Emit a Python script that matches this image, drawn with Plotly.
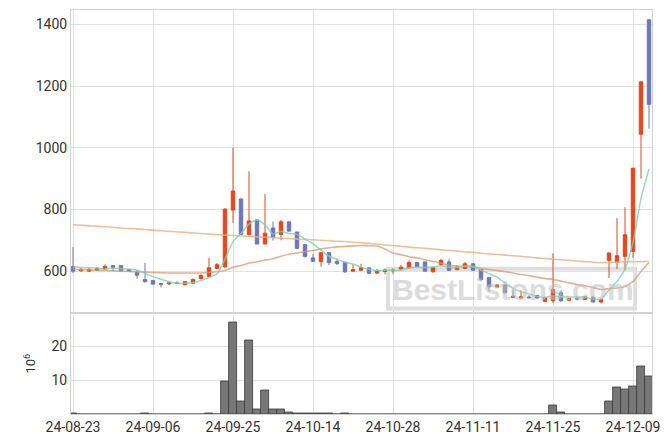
import plotly.graph_objects as go
from plotly.subplots import make_subplots

dates = [
    "24-08-23", "24-08-26", "24-08-27", "24-08-28", "24-08-29", "24-08-30",
    "24-09-02", "24-09-03", "24-09-04", "24-09-05", "24-09-06",
    "24-09-09", "24-09-10", "24-09-11", "24-09-12", "24-09-13",
    "24-09-19", "24-09-20", "24-09-23", "24-09-24", "24-09-25",
    "24-09-26", "24-09-27", "24-09-30", "24-10-02", "24-10-04",
    "24-10-07", "24-10-08", "24-10-10", "24-10-11", "24-10-14",
    "24-10-15", "24-10-16", "24-10-17", "24-10-18", "24-10-21",
    "24-10-22", "24-10-23", "24-10-24", "24-10-25", "24-10-28",
    "24-10-29", "24-10-30", "24-10-31", "24-11-01", "24-11-04",
    "24-11-05", "24-11-06", "24-11-07", "24-11-08", "24-11-11",
    "24-11-12", "24-11-13", "24-11-14", "24-11-15", "24-11-18",
    "24-11-19", "24-11-20", "24-11-21", "24-11-22", "24-11-25",
    "24-11-26", "24-11-27", "24-11-28", "24-11-29", "24-12-02",
    "24-12-03", "24-12-04", "24-12-05", "24-12-06", "24-12-09",
    "24-12-10", "24-12-11",
]

open_ = [615, 601, 600, 603, 607, 618, 618, 605, 596, 573,
         570, 560, 559, 562, 556, 561, 576, 583, 609, 614,
         798, 834, 719, 766, 688, 740, 719, 760, 727, 686,
         643, 631, 660, 631, 629, 600, 603, 611, 594, 599,
         601, 607, 611, 628, 630, 598, 622, 630, 605, 609,
         624, 605, 579, 549, 555, 519, 513, 516, 521, 502,
         504, 530, 506, 512, 508, 514, 500, 635, 629, 648,
         664, 1044, 1415]
high = [678, 611, 610, 613, 622, 619, 619, 606, 604, 627,
        571, 560, 565, 567, 568, 576, 590, 643, 626, 805,
        1000, 836, 924, 768, 850, 761, 766, 760, 728, 688,
        656, 661, 662, 640, 630, 621, 624, 612, 607, 609,
        609, 620, 635, 630, 631, 614, 640, 638, 620, 630,
        625, 606, 580, 558, 556, 540, 538, 522, 523, 517,
        658, 538, 513, 517, 518, 520, 509, 660, 772, 807,
        935, 1215, 1418]
low = [594, 598, 599, 601, 604, 600, 598, 599, 575, 563,
       556, 547, 555, 559, 554, 560, 573, 580, 607, 610,
       757, 717, 715, 688, 688, 699, 700, 727, 672, 644,
       630, 615, 620, 620, 594, 599, 602, 592, 591, 590,
       591, 605, 609, 614, 599, 595, 616, 602, 603, 607,
       601, 567, 534, 546, 528, 514, 511, 511, 511, 501,
       497, 500, 502, 505, 507, 499, 496, 578, 607, 603,
       643, 900, 1062]
close = [600, 606, 606, 609, 615, 612, 600, 600, 587, 566,
         558, 557, 562, 560, 566, 573, 586, 611, 621, 801,
         860, 719, 763, 688, 723, 709, 760, 730, 674, 648,
         632, 660, 628, 625, 598, 605, 611, 593, 602, 604,
         603, 613, 628, 615, 600, 611, 635, 603, 612, 624,
         603, 573, 549, 555, 530, 515, 517, 514, 513, 514,
         540, 504, 512, 510, 517, 500, 508, 659, 650, 718,
         934, 1214, 1141]

ma5 = [614, 612, 611, 610, 607.2, 609.6, 608.4, 607.2, 602.8, 593,
       582.2, 573.6, 566, 560.6, 560.6, 563.6, 569.4, 579.2, 591.4, 638.4,
       695.8, 722.4, 752.8, 766.2, 750.6, 720.4, 728.6, 722, 719.2, 704.2,
       688.8, 668.8, 648.4, 638.6, 628.6, 623.2, 613.4, 606.4, 601.8, 603,
       602.6, 603, 610, 612.6, 611.8, 613.4, 617.8, 612.8, 612.2, 617,
       615.4, 603, 592.2, 580.8, 562, 544.4, 533.2, 526.2, 517.8, 514.6,
       519.6, 517, 516.6, 516, 516.6, 508.6, 509.4, 538.8, 566.8, 607,
       693.8, 835, 931.4]
ma20 = [606, 605, 604, 603, 602, 601, 600, 599, 598, 597,
        596, 595, 594, 594, 594, 594, 594, 596, 598, 602,
        612.8, 618.5, 626.3, 630.3, 635.7, 640.5, 648.5, 655, 659.4, 663.5,
        667.2, 672.3, 675.6, 678.9, 680.5, 682.1, 683.3, 682.4, 681.5, 671.6,
        658.8, 653.5, 646.7, 643.1, 636.9, 632, 625.8, 619.4, 616.3, 615.1,
        613.7, 609.3, 605.4, 601.9, 598.5, 594, 589.3, 585.3, 580.9, 576.4,
        573.2, 567.8, 562, 556.7, 552.6, 547, 540.7, 543.5, 545.4, 550.1,
        566.6, 598.7, 628.3]
ma60 = [751, 749, 747, 746, 744, 742, 740, 738, 737, 735,
        733, 731, 729, 728, 726, 724, 722, 720, 719, 717,
        716, 714, 713, 711, 710, 709, 707, 706, 704, 703,
        702, 700, 699, 697, 696, 694, 692, 690, 688, 685,
        683, 681, 678, 676, 674, 672, 669, 667, 665, 663,
        661, 658, 656, 654, 652, 650, 648, 646, 643, 641,
        639, 637, 635, 633, 631, 629, 628, 628, 629, 630,
        631, 631, 632]

volume = [0.3, 0, 0, 0, 0, 0, 0, 0, 0, 0.3,
          0, 0, 0, 0, 0, 0, 0, 0.3, 0, 9.5,
          27.0, 3.8, 21.8, 1.5, 7.1, 1.3, 1.5, 0.6, 0.3, 0.2,
          0.2, 0.2, 0.2, 0, 0.3, 0, 0, 0, 0, 0,
          0, 0, 0, 0, 0, 0, 0, 0, 0, 0,
          0, 0, 0, 0, 0, 0, 0, 0, 0, 0,
          2.4, 0.6, 0, 0, 0, 0, 0, 3.8, 7.9, 7.4,
          8.2, 14.1, 11.2]

tick_dates = ["24-08-23", "24-09-06", "24-09-25", "24-10-14",
              "24-10-28", "24-11-11", "24-11-25", "24-12-09"]
price_ticks = [600, 800, 1000, 1200, 1400]
volume_ticks = [10, 20]

UP = "#e5461c"
DOWN = "#7076b8"
GRID = "#e2e2e2"
FRAME = "#d2d2d2"
TXT = "#333333"
FONT = "Roboto"

fig = make_subplots(rows=2, cols=1, shared_xaxes=True, vertical_spacing=0,
                    row_heights=[0.751, 0.249])

fig.add_trace(go.Candlestick(
    x=dates, open=open_, high=high, low=low, close=close,
    increasing=dict(line=dict(color=UP, width=1), fillcolor=UP),
    decreasing=dict(line=dict(color=DOWN, width=1), fillcolor=DOWN),
    whiskerwidth=0, showlegend=False, hoverinfo="skip",
), row=1, col=1)

for vals, col, w in [(ma60, "rgba(238,175,128,0.8)", 1.6),
                     (ma20, "rgba(232,145,105,0.75)", 1.6),
                     (ma5, "rgba(120,212,175,0.8)", 1.5)]:
    fig.add_trace(go.Scatter(x=dates, y=vals, mode="lines",
                             line=dict(color=col, width=w, shape="spline", smoothing=0.6),
                             showlegend=False, hoverinfo="skip"), row=1, col=1)

fig.add_trace(go.Bar(x=dates, y=volume, marker=dict(color="#777777",
                     line=dict(color="#3a3a3a", width=0.8)),
                     showlegend=False, hoverinfo="skip"), row=2, col=1)

axis_common = dict(showgrid=True, gridcolor=GRID, gridwidth=1, showline=True,
                   linecolor=FRAME, linewidth=1, mirror=True, zeroline=False,
                   ticks="", tickfont=dict(family=FONT, size=14, color=TXT))

fig.update_xaxes(type="category", tickmode="array", tickvals=tick_dates,
                 ticktext=tick_dates, range=[-0.25, 72.375],
                 rangeslider=dict(visible=False), **axis_common)
fig.update_xaxes(showticklabels=False, row=1, col=1)
fig.update_yaxes(range=[463, 1447], tickmode="array", tickvals=price_ticks,
                 row=1, col=1, **axis_common)
fig.update_yaxes(range=[0, 29.7], tickmode="array", tickvals=volume_ticks,
                 title=dict(text="10<sup>6</sup>", standoff=12,
                            font=dict(family=FONT, size=13, color=TXT)),
                 row=2, col=1, **axis_common)

# watermark (page has an 8px body margin; plot area spans x 71-652, y 9-415)
fig.add_shape(type="rect", xref="paper", yref="paper",
              x0=(388 - 71) / 581, x1=(635 - 71) / 581,
              y0=(415 - 309) / 406, y1=(415 - 269) / 406,
              line=dict(color="#dedede", width=4), layer="below")
fig.add_annotation(xref="paper", yref="paper", x=(513 - 71) / 581,
                   y=(415 - 290) / 406, xanchor="center", yanchor="middle",
                   text="<b>BestListons.com</b>", showarrow=False,
                   font=dict(family="Liberation Sans, Arial",
                             size=30, color="rgba(190,190,190,0.55)"))

fig.update_layout(width=655, height=428, margin=dict(l=63, r=11, t=1, b=21),
                  paper_bgcolor="white", plot_bgcolor="white",
                  boxgap=0.38, bargap=0, showlegend=False,
                  font=dict(family=FONT, color=TXT))

fig.write_html("out.html")
